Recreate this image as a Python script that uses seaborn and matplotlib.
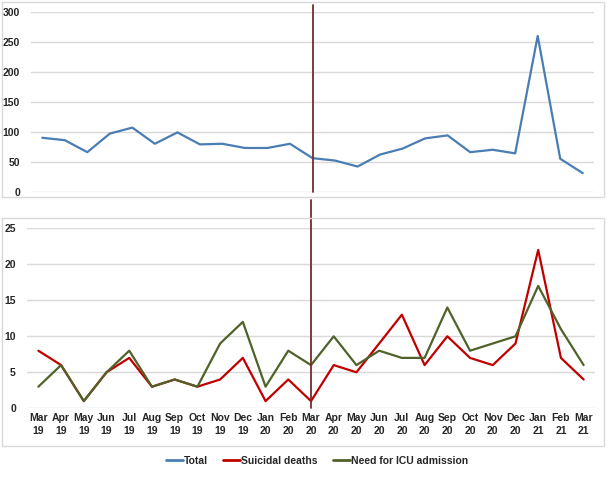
import pandas as pd
import matplotlib.pyplot as plt
import matplotlib.patches as patches
import seaborn as sns

months = ['Mar\n19', 'Apr\n19', 'May\n19', 'Jun\n19', 'Jul\n19', 'Aug\n19', 'Sep\n19', 'Oct\n19',
          'Nov\n19', 'Dec\n19', 'Jan\n20', 'Feb\n20', 'Mar\n20', 'Apr\n20', 'May\n20', 'Jun\n20',
          'Jul\n20', 'Aug\n20', 'Sep\n20', 'Oct\n20', 'Nov\n20', 'Dec\n20', 'Jan\n21', 'Feb\n21', 'Mar\n21']
total = [90, 86, 66, 97, 107, 80, 99, 79, 80, 73, 73, 80, 56, 52, 42, 62, 72, 89, 94, 66, 70, 64, 260, 55, 31]
suicidal = [8, 6, 1, 5, 7, 3, 4, 3, 4, 7, 1, 4, 1, 6, 5, 9, 13, 6, 10, 7, 6, 9, 22, 7, 4]
icu = [3, 6, 1, 5, 8, 3, 4, 3, 9, 12, 3, 8, 6, 10, 6, 8, 7, 7, 14, 8, 9, 10, 17, 11, 6]
split_month = 'Mar\n20'

c_total = '#4A7DB3'
c_suic = '#C00000'
c_icu = '#4F6228'
c_split = '#7B2A2A'
c_grid = '#D9D9D9'

sns.set_theme(style="white")
plt.rcParams['font.family'] = ['Liberation Sans', 'DejaVu Sans']

df = pd.DataFrame({'Month': months, 'Total': total, 'Suicidal deaths': suicidal,
                   'Need for ICU admission': icu})
x = list(range(len(months)))
split_x = months.index(split_month)

fig = plt.figure(figsize=(6.09, 4.82), dpi=100)
W, H = 609, 482

def fig_rect(x0, y0, x1, y1):
    # pixel box (top-left origin) -> figure coords
    return [x0 / W, 1 - y1 / H, (x1 - x0) / W, (y1 - y0) / H]

# frames around both panels
for (x0, y0, x1, y1) in [(2, 2, 604, 197), (2, 218, 604, 446)]:
    fig.patches.append(patches.Rectangle((x0 / W, 1 - y1 / H), (x1 - x0) / W, (y1 - y0) / H,
                                         transform=fig.transFigure, fill=False,
                                         edgecolor=c_grid, linewidth=1))

ax1 = fig.add_axes(fig_rect(31, 12, 594, 191.7))
ax2 = fig.add_axes(fig_rect(27, 228.3, 595, 408.3))

sns.lineplot(x=x, y=df['Total'], ax=ax1, color=c_total, linewidth=1.6, legend=False)
sns.lineplot(x=x, y=df['Suicidal deaths'], ax=ax2, color=c_suic, linewidth=1.6, legend=False)
sns.lineplot(x=x, y=df['Need for ICU admission'], ax=ax2, color=c_icu, linewidth=1.6, legend=False)

for ax, top, step in [(ax1, 300, 50), (ax2, 25, 5)]:
    ax.set_xlim(-0.5, len(months) - 0.5)
    ax.set_ylim(0, top)
    ax.set_yticks(range(0, top + 1, step))
    ax.yaxis.grid(True, color=c_grid, linewidth=1)
    ax.set_axisbelow(True)
    for s in ax.spines.values():
        s.set_visible(False)
    ax.set_xlabel('')
    ax.set_ylabel('')
    ax.tick_params(axis='y', length=0, labelsize=7.5, pad=8)
    ax.tick_params(axis='x', length=0)
    for t in ax.get_yticklabels():
        t.set_fontweight('bold')

ax1.set_xticks([])
ax2.set_xticks(x)
ax2.set_xticklabels(months, fontsize=7.5, fontweight='bold', linespacing=1.4)

# pandemic start marker
ax1.axvline(split_x, ymin=0, ymax=(191.7 - 5) / 179.7, color=c_split, linewidth=1.3, clip_on=False)
ax2.axvline(split_x, ymin=0, ymax=(408.3 - 200) / 180, color=c_split, linewidth=1.3, clip_on=False)

handles = [plt.Line2D([], [], color=c, linewidth=2) for c in (c_total, c_suic, c_icu)]
fig.legend(handles, ['Total', 'Suicidal deaths', 'Need for ICU admission'], loc='center',
           bbox_to_anchor=(317 / W, 1 - 461 / H), ncol=3, frameon=False,
           prop={'size': 7.5, 'weight': 'bold'},
           handlelength=1.6, handletextpad=0.1, columnspacing=1.5)

plt.savefig('out.png', dpi=100)
